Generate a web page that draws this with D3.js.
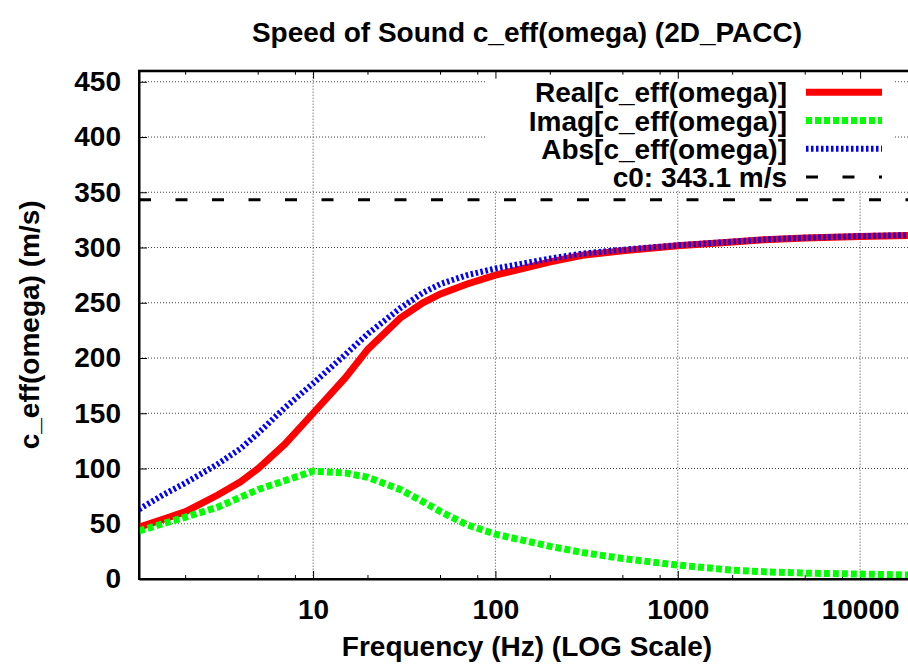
<!DOCTYPE html>
<html>
<head>
<meta charset="utf-8">
<script src="https://cdn.jsdelivr.net/npm/d3@7/dist/d3.min.js"></script>
<style>
  body { margin: 0; background: #fff; }
  text { font-family: "Liberation Sans", Arial, sans-serif; font-weight: bold; fill: #000; }
  .axis path, .axis line { stroke: #000; }
  .grid line { stroke: #444; stroke-width: 1; stroke-dasharray: 1,2; }
</style>
</head>
<body>
<div class="chart"></div>
<script>
"use strict";

// frequencies (Hz) where the curves were read
var freq = [1.11, 1.5, 2, 3, 4, 5, 7, 10, 15, 20, 30, 40, 50, 70, 100, 200, 300, 500, 1000, 2000, 3000, 5000, 10000, 20000];
var realVals = [47, 54, 61, 76, 88, 100, 122, 150, 182, 208, 236, 250, 258, 267, 275, 287, 293, 297, 301.5, 305, 307, 308.5, 310, 311];
var imagVals = [43.5, 50, 56, 65, 74, 81, 89, 97.5, 96, 92, 81, 70, 61, 49, 40.6, 29.5, 24, 18.5, 12.6, 8, 6.5, 5.3, 4.5, 3.5];
var absVals = [63, 76, 87, 104, 118, 132, 155, 177, 203, 222, 245, 259, 267, 275, 281, 290, 294.5, 298, 302, 305.3, 307.3, 308.8, 310.3, 311.3];
var c0 = 343.1;

var xMajor = [10, 100, 1000, 10000];
var xMinor = [2, 5, 8, 20, 50, 80, 200, 500, 800, 2000, 5000, 8000];
var yTicks = [0, 50, 100, 150, 200, 250, 300, 350, 400, 450];

var seriesNames = ["Real[c_eff(omega)]", "Imag[c_eff(omega)]", "Abs[c_eff(omega)]", "c0: 343.1 m/s"];

var margin = {top: 70.7, left: 139},
    width = 776,
    height = 508.3,
    fontSize = 28;

var svg = d3.select(".chart").append("svg")
    .attr("width", 908)
    .attr("height", 664);

svg.append("defs").append("clipPath").attr("id", "plotClip")
  .append("rect")
  .attr("x", margin.left).attr("y", margin.top)
  .attr("width", width).attr("height", height);

var x = d3.scaleLog().domain([1.11, 20000]).range([margin.left, margin.left + width]);
var y = d3.scaleLinear().domain([0, 460]).range([margin.top + height, margin.top]);

//grid
var grid = svg.append("g").attr("class", "grid");
grid.selectAll(".hg").data(yTicks).enter().append("line")
  .attr("x1", margin.left).attr("x2", margin.left + width)
  .attr("y1", function(d){ return y(d); })
  .attr("y2", function(d){ return y(d); });
grid.selectAll(".vg").data(xMajor).enter().append("line")
  .attr("x1", function(d){ return x(d); })
  .attr("x2", function(d){ return x(d); })
  .attr("y1", margin.top).attr("y2", margin.top + height);

// legend background hides the grid behind it
svg.append("rect")
  .attr("x", 485).attr("y", margin.top + 1)
  .attr("width", 410).attr("height", 119)
  .attr("fill", "#fff");

//axes
var bottomAxis = svg.append("g").attr("class", "axis")
  .attr("transform", "translate(0," + (margin.top + height) + ")")
  .call(d3.axisBottom(x).tickValues(xMajor).tickFormat(d3.format("d")).tickSize(-8).tickSizeOuter(0).tickPadding(20));
bottomAxis.append("g").selectAll("line").data(xMinor).enter().append("line")
  .attr("x1", function(d){ return x(d); }).attr("x2", function(d){ return x(d); })
  .attr("y1", 0).attr("y2", -4).attr("stroke", "#000");

var topAxis = svg.append("g").attr("class", "axis")
  .attr("transform", "translate(0," + margin.top + ")")
  .call(d3.axisTop(x).tickValues(xMajor).tickFormat("").tickSize(-8).tickSizeOuter(0));
topAxis.append("g").selectAll("line").data(xMinor).enter().append("line")
  .attr("x1", function(d){ return x(d); }).attr("x2", function(d){ return x(d); })
  .attr("y1", 0).attr("y2", 4).attr("stroke", "#000");

svg.append("g").attr("class", "axis")
  .attr("transform", "translate(" + margin.left + ",0)")
  .call(d3.axisLeft(y).tickValues(yTicks).tickSize(-8).tickSizeOuter(0).tickPadding(18));

svg.selectAll(".axis path").attr("stroke-width", 2);
svg.selectAll(".axis text").attr("font-size", fontSize).attr("fill", "#000");

//curves
var line = d3.line()
  .x(function(d){ return x(d[0]); })
  .y(function(d){ return y(d[1]); });

var plot = svg.append("g").attr("clip-path", "url(#plotClip)");
var styles = [
  {color: "#ff0000", w: 7, dash: null},
  {color: "#00ff00", w: 7, dash: "6,3"},
  {color: "#0000ff", w: 6, dash: "2.5,2.5"},
  {color: "#000000", w: 3, dash: "12,24.5"}
];
var series = [realVals, imagVals, absVals];

series.forEach(function(vals, i){
  plot.append("path")
    .datum(freq.map(function(f, j){ return [f, vals[j]]; }))
    .attr("d", line)
    .attr("fill", "none")
    .attr("stroke", styles[i].color)
    .attr("stroke-width", styles[i].w)
    .attr("stroke-dasharray", styles[i].dash);
});

plot.append("line")
  .attr("x1", x(1.11)).attr("x2", x(20000))
  .attr("y1", y(c0)).attr("y2", y(c0))
  .attr("stroke", "#000").attr("stroke-width", 3)
  .attr("stroke-dasharray", styles[3].dash);

// plot frame
svg.append("rect")
  .attr("x", margin.left).attr("y", margin.top)
  .attr("width", width).attr("height", height)
  .attr("fill", "none").attr("stroke", "#000").attr("stroke-width", 2);

//legend
var legend = svg.append("g").attr("class", "legend");
var rows = legend.selectAll(".row").data(seriesNames).enter()
  .append("g").attr("class", "row")
  .attr("transform", function(d, i){ return "translate(0," + (92.3 + i * 28.2) + ")"; });
rows.append("text")
  .text(function(d){ return d; })
  .attr("x", 787).attr("y", 0).attr("dy", "0.36em")
  .attr("font-size", fontSize)
  .style("text-anchor", "end");
rows.append("line")
  .attr("x1", 806).attr("x2", 882)
  .attr("stroke", function(d, i){ return styles[i].color; })
  .attr("stroke-width", function(d, i){ return styles[i].w; })
  .attr("stroke-dasharray", function(d, i){ return styles[i].dash; });

//titles
svg.append("text")
  .text("Speed of Sound c_eff(omega) (2D_PACC)")
  .attr("x", margin.left + width / 2).attr("y", 42)
  .attr("font-size", fontSize)
  .style("text-anchor", "middle");

svg.append("text")
  .text("Frequency (Hz) (LOG Scale)")
  .attr("x", margin.left + width / 2).attr("y", 656)
  .attr("font-size", fontSize)
  .style("text-anchor", "middle");

svg.append("text")
  .text("c_eff(omega) (m/s)")
  .attr("transform", "translate(39," + (margin.top + height / 2) + ") rotate(-90)")
  .attr("font-size", fontSize)
  .style("text-anchor", "middle");
</script>
</body>
</html>
